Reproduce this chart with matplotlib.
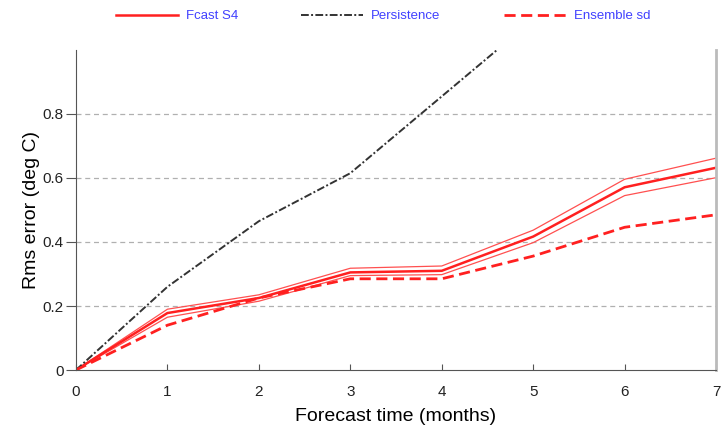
import matplotlib
matplotlib.use("Agg")
import matplotlib.pyplot as plt

plt.rcParams['font.family'] = ['Liberation Sans', 'DejaVu Sans']

months = [0, 1, 2, 3, 4, 5, 6, 7]
fcast_s4 = [0, 0.178, 0.225, 0.305, 0.31, 0.417, 0.571, 0.632]
fcast_hi = [0, 0.19, 0.235, 0.318, 0.325, 0.437, 0.596, 0.662]
fcast_lo = [0, 0.165, 0.215, 0.295, 0.298, 0.398, 0.545, 0.601]
ens_sd = [0, 0.14, 0.225, 0.285, 0.285, 0.356, 0.446, 0.485]
persist_t = [0, 1, 2, 3, 4, 5]
persistence = [0, 0.26, 0.465, 0.615, 0.855, 1.095]

fig = plt.figure(figsize=(7.27, 4.29), dpi=100)
ax = fig.add_axes([0.1045, 0.1375, 0.8805, 0.746])

# grid lines
for g in [0.2, 0.4, 0.6, 0.8]:
    ax.axhline(g, color='#b0b0b0', lw=0.9, ls=(0, (4, 3)), zorder=0)

ax.plot(months, fcast_hi, color='#ff5050', lw=0.9)
ax.plot(months, fcast_lo, color='#ff5050', lw=0.9)
l1, = ax.plot(months, fcast_s4, color='#ff2020', lw=1.8)
l2, = ax.plot(persist_t, persistence, color='#333333', lw=1.4, ls=(0, (4, 1.2, 1, 1.2)))
l3, = ax.plot(months, ens_sd, color='#ff2020', lw=2.0, ls=(0, (4, 2)))

ax.set_xlim(0, 7)
ax.set_ylim(0, 1.0)
ax.set_xticks(range(8))
ax.set_yticks([0, 0.2, 0.4, 0.6, 0.8])
ax.set_yticklabels(['0', '0.2', '0.4', '0.6', '0.8'])
ax.tick_params(axis='x', labelsize=11, direction='in', length=4, pad=11,
               color='#555555', labelcolor='#222222')
ax.tick_params(axis='y', labelsize=11, direction='out', length=7, pad=2,
               color='#555555', labelcolor='#222222')
ax.set_xlabel('Forecast time (months)', fontsize=14, labelpad=6)
ax.set_ylabel('Rms error (deg C)', fontsize=14, labelpad=2)
ax.spines['top'].set_visible(False)
ax.spines['right'].set_color('#bbbbbb')
ax.spines['right'].set_linewidth(2)
ax.spines['left'].set_color('#555555')
ax.spines['bottom'].set_color('#555555')

leg = fig.legend([l1, l2, l3], ['Fcast S4', 'Persistence', 'Ensemble sd'],
                 loc='center', bbox_to_anchor=(0.527, 0.962), ncol=3, frameon=False,
                 fontsize=9.5, handlelength=4.7, handletextpad=0.6, columnspacing=4.8)
for t in leg.get_texts():
    t.set_color('#4040ff')

fig.savefig('out.png', dpi=100)
